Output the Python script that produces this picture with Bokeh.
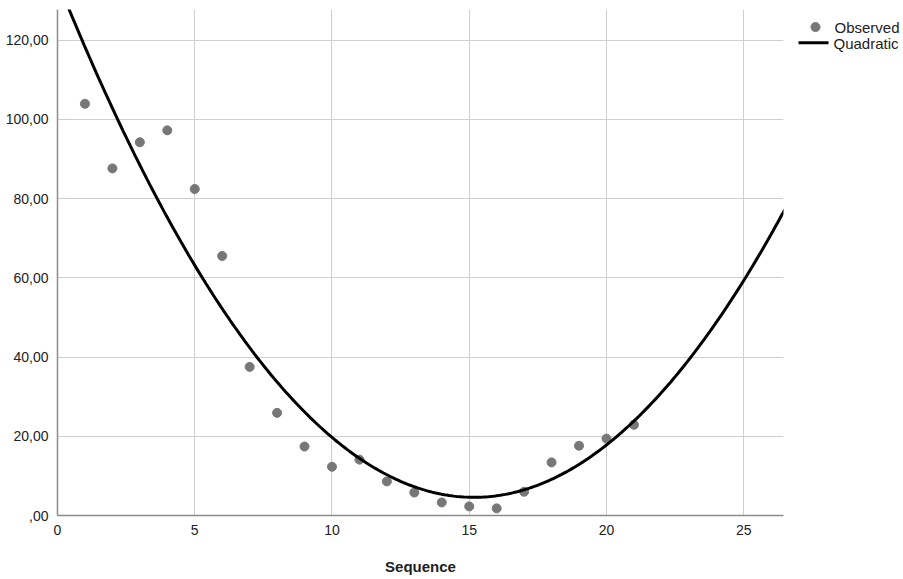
import numpy as np
from bokeh.plotting import figure
from bokeh.layouts import row
from bokeh.models import Range1d, FixedTicker, CustomJSTickFormatter, ColumnDataSource
from bokeh.core.properties import value
from bokeh.embed import file_html
from bokeh.resources import INLINE

sequence = [1, 2, 3, 4, 5, 6, 7, 8, 9, 10, 11, 12, 13, 14, 15, 16, 17, 18, 19, 20, 21]
observed = [103.9, 87.6, 94.2, 97.2, 82.4, 65.5, 37.5, 25.9, 17.4, 12.3, 14.1,
            8.6, 5.8, 3.3, 2.3, 1.8, 6.0, 13.4, 17.6, 19.4, 22.9]
x_ticks = [0, 5, 10, 15, 20, 25]
y_ticks = [0, 20, 40, 60, 80, 100, 120]
legend_labels = ["Observed", "Quadratic"]

# Quadratic fit of the observed series
coef = np.polyfit(sequence, observed, 2)
xs = np.linspace(0, 26.5, 300)
ys = np.polyval(coef, xs)

FONT = "Liberation Sans"
TXT = "#222222"
PT = "#777777"
H = 577

p = figure(width=784, height=H, output_backend="svg", toolbar_location=None,
           x_range=Range1d(0, 26.45), y_range=Range1d(0, 127.7),
           min_border_left=57, min_border_right=1, min_border_top=9,
           min_border_bottom=60)
p.outline_line_color = None

src = ColumnDataSource(dict(x=sequence, y=observed))
p.scatter("x", "y", source=src, size=9, fill_color=PT, line_color=PT)
p.line(xs, ys, line_color="black", line_width=3)

p.xaxis.ticker = FixedTicker(ticks=x_ticks)
p.yaxis.ticker = FixedTicker(ticks=y_ticks)
p.yaxis.formatter = CustomJSTickFormatter(code="""
    var s = tick.toFixed(2).replace('.', ',');
    if (s.startsWith('0,')) s = s.substring(1);
    return s;
""")
for ax in (p.xaxis[0], p.yaxis[0]):
    ax.axis_line_color = "#8c8c8c"
    ax.axis_line_width = 1.5
    ax.major_tick_line_color = None
    ax.minor_tick_line_color = None
    ax.major_label_text_font = FONT
    ax.major_label_text_font_size = "14px"
    ax.major_label_text_color = TXT
p.xaxis.major_label_standoff = 3
p.yaxis.major_label_standoff = 3
p.xaxis.axis_label = "Sequence"
p.xaxis.axis_label_text_font = FONT
p.xaxis.axis_label_text_font_size = "15px"
p.xaxis.axis_label_text_font_style = "bold"
p.xaxis.axis_label_text_color = TXT
p.xaxis.axis_label_standoff = 20

p.xgrid.grid_line_color = "#cfcfcf"
p.ygrid.grid_line_color = "#cfcfcf"

# Legend panel (screen-like coordinates, y downward)
lg = figure(width=116, height=H, output_backend="svg", toolbar_location=None,
            x_range=Range1d(0, 116), y_range=Range1d(H, 0),
            min_border=0, x_axis_type=None, y_axis_type=None)
lg.outline_line_color = None
lg.grid.visible = False
lg.scatter([31], [20], size=9, fill_color=PT, line_color=PT)
lg.line([14, 44], [38, 38], line_color="black", line_width=3)
lg.text([50, 49], [21, 39], text=legend_labels, text_font=value(FONT),
        text_font_size="15px", text_color=TXT, text_baseline="middle",
        text_align="left")

open("out.html", "w").write(file_html(row(p, lg), INLINE))
